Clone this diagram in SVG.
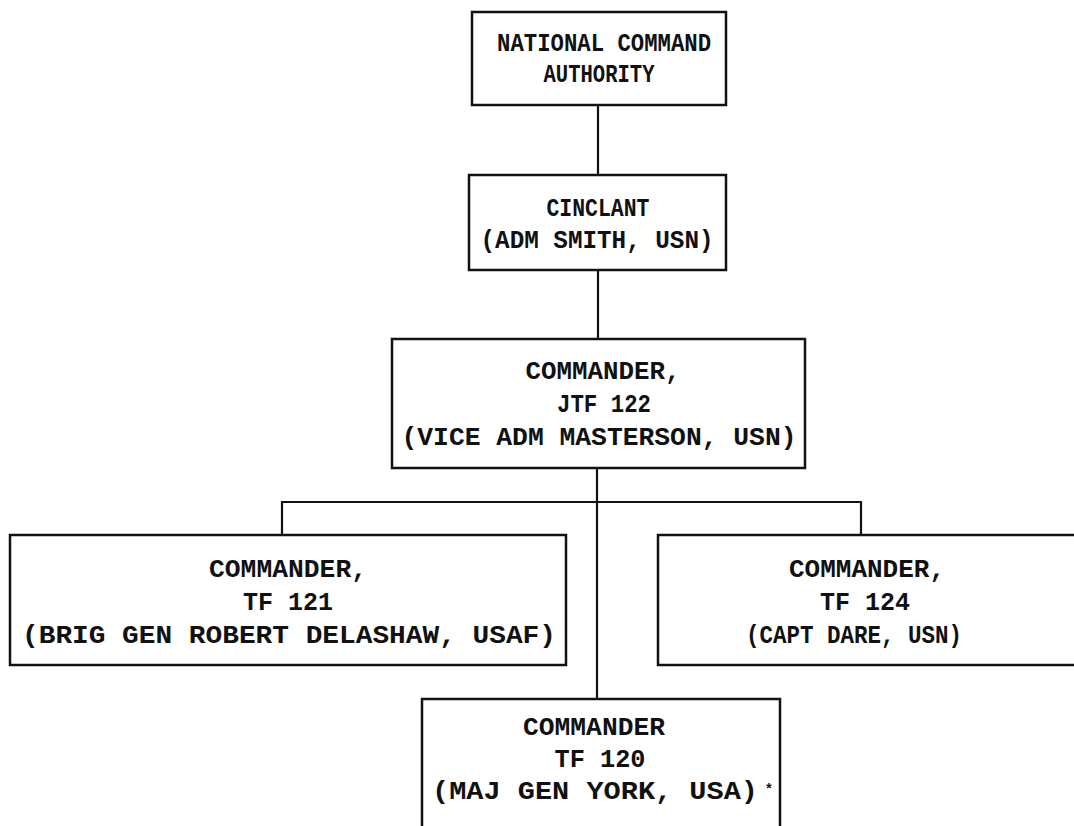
<svg xmlns="http://www.w3.org/2000/svg" width="1074" height="826" viewBox="0 0 1074 826">
  <style>
    .box { fill: #ffffff; stroke: #111111; stroke-width: 2.5; }
    .link { fill: none; stroke: #111111; stroke-width: 2.2; }
    text { font-family: "Liberation Mono", "DejaVu Sans Mono", monospace; font-weight: bold; font-size: 26px; fill: #111111; text-anchor: middle; }
  </style>
  <rect width="1074" height="826" fill="#ffffff"/>

  <!-- connectors -->
  <g id="connectors">
    <line class="link" x1="598" y1="105" x2="598" y2="175"/>
    <line class="link" x1="598" y1="270" x2="598" y2="339"/>
    <line class="link" x1="597" y1="468" x2="597" y2="699"/>
    <polyline class="link" points="282,535 282,502 861,502 861,535"/>
  </g>

  <g id="nca">
    <rect class="box" x="472" y="12" width="254" height="93"/>
    <text x="604" y="51" textLength="214" lengthAdjust="spacingAndGlyphs">NATIONAL COMMAND</text>
    <text x="599" y="82" textLength="111" lengthAdjust="spacingAndGlyphs">AUTHORITY</text>
  </g>

  <g id="cinclant">
    <rect class="box" x="469" y="175" width="257" height="95"/>
    <text x="598" y="216" textLength="103" lengthAdjust="spacingAndGlyphs">CINCLANT</text>
    <text x="597" y="248" textLength="233" lengthAdjust="spacingAndGlyphs">(ADM SMITH, USN)</text>
  </g>

  <g id="jtf122">
    <rect class="box" x="392" y="339" width="413" height="129"/>
    <text x="603" y="379" textLength="155" lengthAdjust="spacingAndGlyphs">COMMANDER,</text>
    <text x="604" y="412" textLength="94" lengthAdjust="spacingAndGlyphs">JTF 122</text>
    <text x="599" y="445" textLength="395" lengthAdjust="spacingAndGlyphs">(VICE ADM MASTERSON, USN)</text>
  </g>

  <g id="tf121">
    <rect class="box" x="10" y="535" width="556" height="130"/>
    <text x="288" y="577" textLength="158" lengthAdjust="spacingAndGlyphs">COMMANDER,</text>
    <text x="288" y="610" textLength="90" lengthAdjust="spacingAndGlyphs">TF 121</text>
    <text x="289" y="643" textLength="534" lengthAdjust="spacingAndGlyphs">(BRIG GEN ROBERT DELASHAW, USAF)</text>
  </g>

  <g id="tf124">
    <rect class="box" x="658" y="535" width="430" height="130"/>
    <text x="867" y="577" textLength="156" lengthAdjust="spacingAndGlyphs">COMMANDER,</text>
    <text x="865" y="610" textLength="90" lengthAdjust="spacingAndGlyphs">TF 124</text>
    <text x="854" y="643" textLength="216" lengthAdjust="spacingAndGlyphs">(CAPT DARE, USN)</text>
  </g>

  <g id="tf120">
    <rect class="box" x="422" y="699" width="358" height="140"/>
    <text x="594" y="735" textLength="142" lengthAdjust="spacingAndGlyphs">COMMANDER</text>
    <text x="600" y="767" textLength="91" lengthAdjust="spacingAndGlyphs">TF 120</text>
    <text x="595" y="799" textLength="326" lengthAdjust="spacingAndGlyphs">(MAJ GEN YORK, USA)</text>
    <text x="769" y="794" style="font-size:14px">*</text>
  </g>
</svg>
